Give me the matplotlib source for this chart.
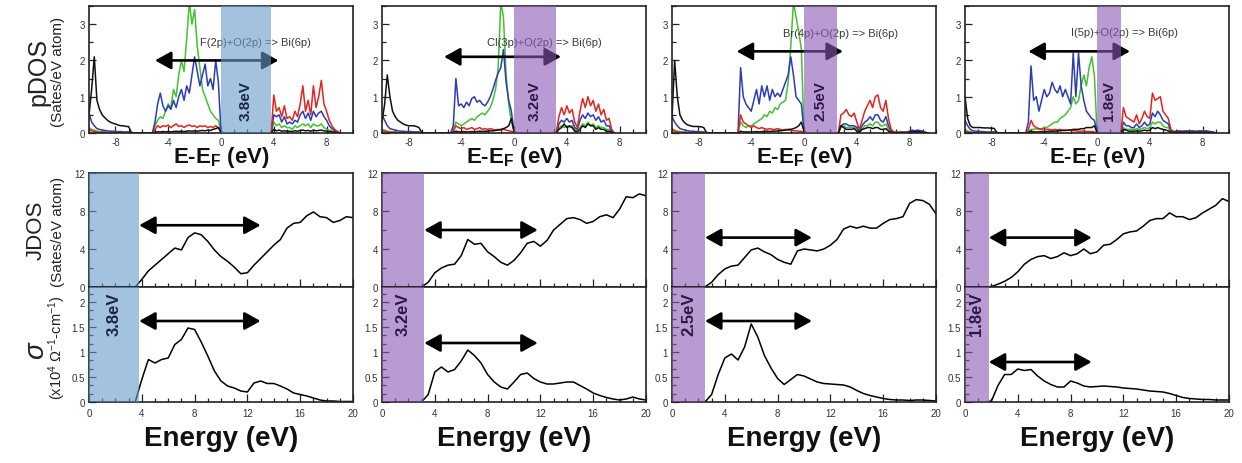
import numpy as np
import matplotlib
matplotlib.use("Agg")
import matplotlib.pyplot as plt
from matplotlib.ticker import MultipleLocator

plt.rcParams['font.family'] = ['Liberation Sans', 'DejaVu Sans']
plt.rcParams['axes.unicode_minus'] = False
plt.rcParams['mathtext.fontset'] = 'custom'
plt.rcParams['mathtext.rm'] = 'Liberation Sans'
plt.rcParams['mathtext.it'] = 'Liberation Sans:italic'
plt.rcParams['mathtext.bf'] = 'Liberation Sans:bold'

# ---------------------------------------------------------------- data
systems = ['F', 'Cl', 'Br', 'I']
gaps = [3.8, 3.2, 2.5, 1.8]
transitions = ['F(2p)+O(2p) => Bi(6p)', 'Cl(3p)+O(2p) => Bi(6p)',
               'Br(4p)+O(2p) => Bi(6p)', 'I(5p)+O(2p) => Bi(6p)']

# pDOS sampled every 0.2 eV; each region given by its first energy
PDOS_STEP = 0.2

# --- BiOF
F_core_start = -10.0
F_core_k = [0.5, 1.2, 2.1, 0.9, 0.65, 0.5, 0.42, 0.35, 0.3, 0.27, 0.25, 0.22, 0.2, 0.2, 0.18, 0.18, 0.02, 0.0]
F_core_b = [0.55, 0.3, 0.2, 0.12, 0.1, 0.08, 0.07, 0.06, 0.05, 0.05, 0.04, 0.04, 0.04, 0.03, 0.03, 0.03, 0.0, 0.0]
F_core_g = [0.15, 0.1, 0.08, 0.05, 0.04, 0.03, 0.03, 0.02, 0.02, 0.02, 0.02, 0.02, 0.01, 0.01, 0.01, 0.01, 0.0, 0.0]
F_core_r = [0.1, 0.06, 0.04, 0.03, 0.02, 0.02, 0.02, 0.01, 0.01, 0.01, 0.01, 0.01, 0.01, 0.01, 0.01, 0.01, 0.0, 0.0]
F_vb_start = -5.2
F_vb_b = [0, 0.3, 0.8, 1.1, 0.75, 0.6, 0.75, 0.65, 0.9, 0.7, 1.0, 1.2, 0.9, 1.3, 1.1, 1.6, 2.1, 1.7, 1.3, 1.6, 1.9, 1.3, 1.5, 1.2, 2.0, 1.4, 0.05, 0]
F_vb_g = [0, 0.2, 0.35, 0.45, 0.4, 0.6, 0.8, 0.7, 1.2, 1.0, 1.6, 2.0, 1.7, 2.6, 3.6, 3.0, 3.4, 2.4, 1.8, 1.2, 1.0, 0.8, 0.6, 0.5, 0.4, 0.35, 0.05, 0]
F_vb_r = [0, 0.1, 0.2, 0.15, 0.2, 0.18, 0.22, 0.15, 0.2, 0.25, 0.18, 0.2, 0.15, 0.2, 0.22, 0.18, 0.2, 0.15, 0.2, 0.18, 0.2, 0.15, 0.18, 0.15, 0.2, 0.15, 0.02, 0]
F_vb_k = [0, 0.02, 0.03, 0.03, 0.04, 0.03, 0.04, 0.03, 0.04, 0.05, 0.04, 0.05, 0.04, 0.05, 0.06, 0.05, 0.06, 0.05, 0.06, 0.07, 0.06, 0.08, 0.07, 0.1, 0.12, 0.15, 0.02, 0]
F_cb_start = 3.8
F_cb_r = [0, 1.05, 0.6, 0.7, 0.45, 0.75, 0.4, 0.45, 0.35, 0.6, 0.45, 0.8, 1.3, 0.6, 0.9, 0.5, 1.3, 0.7, 1.0, 1.45, 0.8, 0.6, 0.35, 0.2, 0.1, 0.05, 0]
F_cb_b = [0, 0.5, 0.45, 0.5, 0.3, 0.45, 0.25, 0.3, 0.25, 0.35, 0.3, 0.5, 0.6, 0.4, 0.55, 0.35, 0.6, 0.45, 0.55, 0.6, 0.45, 0.35, 0.2, 0.12, 0.06, 0.03, 0]
F_cb_g = [0, 0.3, 0.2, 0.25, 0.15, 0.2, 0.15, 0.15, 0.1, 0.2, 0.15, 0.2, 0.25, 0.2, 0.25, 0.15, 0.25, 0.2, 0.2, 0.25, 0.15, 0.1, 0.08, 0.05, 0.03, 0.02, 0]
F_cb_k = [0, 0.1, 0.06, 0.08, 0.05, 0.06, 0.05, 0.05, 0.04, 0.06, 0.05, 0.07, 0.08, 0.06, 0.07, 0.05, 0.08, 0.06, 0.07, 0.08, 0.06, 0.05, 0.04, 0.03, 0.02, 0.01, 0]

# --- BiOCl
Cl_core_start = -10.0
Cl_core_k = [0.3, 0.8, 1.6, 1.0, 0.6, 0.45, 0.35, 0.3, 0.25, 0.22, 0.2, 0.2, 0.2, 0.18, 0.15, 0.02, 0, 0]
Cl_core_b = [0.5, 0.35, 0.2, 0.12, 0.1, 0.08, 0.06, 0.05, 0.05, 0.04, 0.04, 0.04, 0.03, 0.03, 0.03, 0, 0, 0]
Cl_core_g = [0.1, 0.08, 0.05, 0.04, 0.03, 0.03, 0.02, 0.02, 0.02, 0.02, 0.01, 0.01, 0.01, 0.01, 0.01, 0, 0, 0]
Cl_core_r = [0.06, 0.05, 0.03, 0.02, 0.02, 0.02, 0.01, 0.01, 0.01, 0.01, 0.01, 0.01, 0.01, 0.01, 0.01, 0, 0, 0]
Cl_vb_start = -4.8
Cl_vb_b = [0, 0.2, 1.5, 0.75, 0.8, 0.7, 0.85, 0.75, 0.95, 1.0, 0.85, 0.9, 0.8, 0.75, 0.85, 1.0, 1.2, 1.45, 1.65, 1.8, 2.3, 1.4, 0.9, 0.6, 0.05, 0]
Cl_vb_g = [0, 0.1, 0.3, 0.25, 0.2, 0.25, 0.3, 0.35, 0.4, 0.35, 0.45, 0.5, 0.55, 0.5, 0.6, 0.7, 0.9, 1.2, 1.8, 3.6, 3.2, 1.6, 0.8, 0.3, 0.05, 0]
Cl_vb_r = [0, 0.05, 0.2, 0.15, 0.12, 0.15, 0.1, 0.12, 0.15, 0.1, 0.12, 0.15, 0.1, 0.12, 0.1, 0.12, 0.1, 0.08, 0.1, 0.08, 0.1, 0.08, 0.06, 0.05, 0.02, 0]
Cl_vb_k = [0, 0.02, 0.05, 0.03, 0.03, 0.04, 0.03, 0.03, 0.04, 0.03, 0.04, 0.05, 0.04, 0.05, 0.05, 0.06, 0.06, 0.07, 0.08, 0.1, 0.12, 0.15, 0.2, 0.4, 0.05, 0]
Cl_cb_start = 3.2
Cl_cb_r = [0, 0.45, 0.7, 0.5, 0.75, 0.55, 0.65, 0.3, 0.15, 0.6, 0.95, 0.7, 1.0, 0.75, 0.9, 0.6, 0.8, 0.5, 0.65, 0.35, 0.4, 0.1, 0]
Cl_cb_b = [0, 0.25, 0.35, 0.3, 0.4, 0.3, 0.35, 0.15, 0.1, 0.35, 0.5, 0.4, 0.55, 0.45, 0.5, 0.35, 0.45, 0.3, 0.35, 0.2, 0.2, 0.05, 0]
Cl_cb_g = [0, 0.15, 0.2, 0.15, 0.2, 0.15, 0.2, 0.1, 0.05, 0.15, 0.25, 0.2, 0.3, 0.2, 0.25, 0.15, 0.2, 0.15, 0.15, 0.1, 0.1, 0.03, 0]
Cl_cb_k = [0, 0.1, 0.15, 0.25, 0.15, 0.2, 0.15, 0.05, 0.03, 0.1, 0.2, 0.15, 0.25, 0.2, 0.2, 0.1, 0.15, 0.1, 0.1, 0.05, 0.05, 0.02, 0]

# --- BiOBr
Br_core_start = -10.0
Br_core_k = [0.4, 2.0, 1.0, 0.5, 0.35, 0.27, 0.22, 0.2, 0.18, 0.18, 0.18, 0.17, 0.15, 0.02, 0, 0, 0, 0]
Br_core_b = [0.45, 0.3, 0.2, 0.12, 0.1, 0.08, 0.06, 0.05, 0.05, 0.04, 0.04, 0.03, 0.03, 0, 0, 0, 0, 0]
Br_core_g = [0.12, 0.08, 0.05, 0.04, 0.03, 0.02, 0.02, 0.02, 0.02, 0.01, 0.01, 0.01, 0.01, 0, 0, 0, 0, 0]
Br_core_r = [0.08, 0.05, 0.03, 0.02, 0.02, 0.01, 0.01, 0.01, 0.01, 0.01, 0.01, 0.01, 0.01, 0, 0, 0, 0, 0]
Br_vb_start = -5.0
Br_vb_b = [0, 1.8, 1.0, 0.8, 0.7, 0.6, 0.9, 1.2, 0.8, 1.3, 1.0, 1.3, 0.9, 1.2, 1.0, 1.1, 1.0, 1.2, 1.4, 1.6, 2.1, 1.6, 1.0, 0.9, 0.8, 0.05, 0]
Br_vb_g = [0, 0.3, 0.2, 0.15, 0.2, 0.2, 0.25, 0.3, 0.35, 0.4, 0.5, 0.45, 0.6, 0.55, 0.7, 0.65, 0.8, 0.85, 0.9, 1.4, 2.4, 3.6, 3.2, 2.8, 2.3, 0.05, 0]
Br_vb_r = [0, 0.5, 0.3, 0.25, 0.2, 0.15, 0.2, 0.15, 0.12, 0.15, 0.12, 0.1, 0.12, 0.1, 0.1, 0.12, 0.1, 0.08, 0.1, 0.08, 0.08, 0.06, 0.06, 0.05, 0.05, 0.02, 0]
Br_vb_k = [0, 0.05, 0.03, 0.03, 0.03, 0.03, 0.03, 0.04, 0.03, 0.04, 0.04, 0.05, 0.04, 0.05, 0.05, 0.06, 0.06, 0.07, 0.08, 0.1, 0.1, 0.12, 0.15, 0.2, 0.3, 0.05, 0]
Br_cb_start = 2.6
Br_cb_r = [0, 0.5, 0.55, 0.65, 0.5, 0.45, 0.55, 0.3, 0.1, 0.35, 0.6, 0.75, 0.9, 0.7, 1.0, 1.05, 0.7, 0.6, 0.9, 0.4, 0.1, 0.03, 0.02, 0.02, 0.02, 0.02, 0.02, 0.02, 0.03, 0.03, 0.03, 0.02, 0.02, 0.01, 0]
Br_cb_b = [0, 0.2, 0.25, 0.25, 0.2, 0.2, 0.2, 0.15, 0.05, 0.2, 0.3, 0.35, 0.45, 0.35, 0.5, 0.5, 0.35, 0.3, 0.45, 0.2, 0.05, 0.02, 0.02, 0.02, 0.03, 0.02, 0.03, 0.05, 0.08, 0.06, 0.08, 0.07, 0.05, 0.02, 0]
Br_cb_g = [0, 0.15, 0.2, 0.15, 0.15, 0.15, 0.15, 0.1, 0.03, 0.1, 0.2, 0.2, 0.25, 0.2, 0.3, 0.3, 0.2, 0.2, 0.25, 0.1, 0.03, 0.01, 0.01, 0.01, 0.01, 0.01, 0.01, 0.02, 0.03, 0.03, 0.03, 0.02, 0.02, 0.01, 0]
Br_cb_k = [0, 0.2, 0.15, 0.1, 0.1, 0.1, 0.12, 0.05, 0.02, 0.1, 0.12, 0.15, 0.15, 0.12, 0.15, 0.15, 0.1, 0.1, 0.12, 0.05, 0.02, 0.01, 0.01, 0.01, 0.01, 0.01, 0.01, 0.02, 0.04, 0.03, 0.04, 0.03, 0.02, 0.01, 0]

# --- BiOI
I_core_start = -10.0
I_core_k = [1.0, 0.4, 0.2, 0.15, 0.15, 0.15, 0.15, 0.14, 0.14, 0.14, 0.13, 0.13, 0.02, 0, 0, 0, 0, 0]
I_core_b = [0.35, 0.2, 0.1, 0.06, 0.05, 0.05, 0.04, 0.04, 0.03, 0.03, 0.03, 0.03, 0, 0, 0, 0, 0, 0]
I_core_g = [0.1, 0.05, 0.03, 0.02, 0.02, 0.02, 0.01, 0.01, 0.01, 0.01, 0.01, 0.01, 0, 0, 0, 0, 0, 0]
I_core_r = [0.05, 0.03, 0.02, 0.01, 0.01, 0.01, 0.01, 0.01, 0.01, 0.01, 0.01, 0.01, 0, 0, 0, 0, 0, 0]
I_vb_start = -5.4
I_vb_b = [0, 0.3, 1.85, 0.9, 1.0, 0.6, 0.9, 1.2, 1.0, 1.1, 1.4, 1.2, 1.1, 1.3, 1.0, 1.2, 1.0, 0.8, 2.2, 1.0, 2.2, 1.3, 0.9, 0.6, 0.5, 0.4, 0.35, 0.05, 0]
I_vb_g = [0, 0.05, 0.1, 0.1, 0.12, 0.1, 0.12, 0.15, 0.15, 0.2, 0.25, 0.3, 0.3, 0.4, 0.45, 0.5, 0.6, 0.7, 1.0, 0.8, 0.9, 1.3, 1.6, 1.3, 1.8, 2.1, 1.6, 0.05, 0]
I_vb_r = [0, 0.1, 0.35, 0.2, 0.15, 0.12, 0.1, 0.12, 0.1, 0.1, 0.08, 0.1, 0.08, 0.1, 0.08, 0.08, 0.07, 0.08, 0.06, 0.06, 0.05, 0.05, 0.05, 0.04, 0.04, 0.04, 0.03, 0.01, 0]
I_vb_k = [0, 0.02, 0.05, 0.03, 0.03, 0.03, 0.04, 0.04, 0.04, 0.05, 0.05, 0.05, 0.06, 0.06, 0.07, 0.07, 0.08, 0.08, 0.1, 0.1, 0.1, 0.12, 0.12, 0.15, 0.15, 0.15, 0.2, 0.02, 0]
I_cb_start = 1.8
I_cb_r = [0, 0.7, 0.45, 0.4, 0.35, 0.3, 0.5, 0.25, 0.4, 0.6, 0.45, 0.4, 1.1, 0.9, 0.95, 1.0, 0.6, 0.5, 0.4, 0.1, 0.04, 0.03, 0.03, 0.03, 0.03, 0.03, 0.03, 0.03, 0.03, 0.03, 0.03, 0.03, 0.03, 0.02, 0.02, 0.01, 0]
I_cb_b = [0, 0.3, 0.2, 0.2, 0.15, 0.15, 0.25, 0.15, 0.2, 0.3, 0.2, 0.25, 0.55, 0.45, 0.6, 0.5, 0.35, 0.3, 0.25, 0.06, 0.04, 0.05, 0.06, 0.05, 0.05, 0.06, 0.05, 0.06, 0.05, 0.05, 0.06, 0.05, 0.06, 0.05, 0.04, 0.03, 0]
I_cb_g = [0, 0.15, 0.1, 0.1, 0.1, 0.1, 0.12, 0.1, 0.12, 0.15, 0.12, 0.15, 0.3, 0.25, 0.3, 0.3, 0.2, 0.15, 0.15, 0.03, 0.03, 0.04, 0.05, 0.04, 0.06, 0.05, 0.04, 0.06, 0.05, 0.04, 0.05, 0.06, 0.05, 0.04, 0.03, 0.02, 0]
I_cb_k = [0, 0.1, 0.08, 0.05, 0.05, 0.05, 0.06, 0.05, 0.06, 0.08, 0.06, 0.08, 0.15, 0.12, 0.15, 0.12, 0.1, 0.08, 0.06, 0.02, 0.02, 0.02, 0.02, 0.02, 0.02, 0.02, 0.02, 0.02, 0.02, 0.02, 0.02, 0.02, 0.02, 0.02, 0.01, 0.01, 0]

# JDOS and optical conductivity, sampled every 0.5 eV from 0 to 20 eV
energy = np.linspace(0.0, 20.0, 41)
jdos_F = [0, 0, 0, 0, 0, 0, 0, 0, 0.8, 1.7, 2.3, 2.9, 3.5, 4.1, 3.9, 5.2, 5.7, 5.5, 4.8, 3.9, 3.2, 2.7, 2.1, 1.4, 1.5, 2.3, 3.0, 3.7, 4.4, 5.0, 6.2, 6.7, 6.8, 7.5, 7.9, 7.4, 7.3, 6.8, 7.0, 7.4, 7.3]
jdos_Cl = [0, 0, 0, 0, 0, 0, 0, 0.5, 1.5, 2.0, 2.3, 2.4, 3.3, 5.0, 4.5, 4.6, 3.7, 3.2, 2.6, 2.3, 2.8, 3.6, 4.6, 4.8, 4.3, 4.9, 6.0, 6.6, 7.2, 7.3, 7.1, 6.7, 6.9, 7.4, 7.6, 7.3, 8.2, 9.5, 9.4, 9.8, 9.6]
jdos_Br = [0, 0, 0, 0, 0, 0, 0.5, 1.3, 1.9, 2.2, 2.3, 3.1, 3.9, 4.1, 3.7, 3.4, 2.9, 2.6, 2.4, 3.8, 4.0, 3.9, 3.8, 4.0, 4.4, 5.0, 6.1, 6.4, 6.2, 6.4, 6.2, 6.2, 6.7, 7.1, 7.2, 7.4, 8.8, 9.2, 9.1, 8.7, 7.7]
jdos_I = [0, 0, 0, 0, 0.05, 0.3, 0.6, 1.0, 1.6, 2.4, 2.9, 3.2, 3.3, 3.0, 3.2, 3.6, 3.3, 3.5, 4.0, 3.5, 3.7, 4.4, 4.5, 5.0, 5.6, 5.8, 5.9, 6.4, 7.0, 7.2, 7.2, 7.8, 7.4, 7.4, 7.1, 7.3, 7.8, 8.2, 8.6, 9.3, 9.0]
sigma_F = [0, 0, 0, 0, 0, 0, 0, 0, 0.45, 0.85, 0.78, 0.85, 0.88, 1.15, 1.25, 1.48, 1.45, 1.2, 0.92, 0.62, 0.42, 0.32, 0.28, 0.22, 0.2, 0.38, 0.42, 0.37, 0.37, 0.32, 0.26, 0.18, 0.15, 0.12, 0.08, 0.04, 0.02, 0.02, 0.01, 0.01, 0.01]
sigma_Cl = [0, 0, 0, 0, 0, 0, 0, 0.15, 0.6, 0.7, 0.6, 0.65, 0.82, 1.04, 0.93, 0.78, 0.55, 0.4, 0.3, 0.26, 0.4, 0.55, 0.58, 0.47, 0.4, 0.36, 0.36, 0.38, 0.4, 0.4, 0.33, 0.26, 0.18, 0.13, 0.09, 0.06, 0.04, 0.06, 0.1, 0.06, 0.04]
sigma_Br = [0, 0, 0, 0, 0, 0, 0.15, 0.55, 0.88, 0.96, 0.84, 1.1, 1.56, 1.3, 0.93, 0.68, 0.47, 0.35, 0.45, 0.55, 0.52, 0.46, 0.4, 0.37, 0.36, 0.35, 0.34, 0.3, 0.23, 0.17, 0.13, 0.1, 0.07, 0.05, 0.04, 0.04, 0.03, 0.04, 0.04, 0.03, 0.02]
sigma_I = [0, 0, 0, 0, 0.02, 0.33, 0.55, 0.55, 0.66, 0.63, 0.65, 0.52, 0.42, 0.35, 0.3, 0.3, 0.42, 0.38, 0.32, 0.3, 0.31, 0.32, 0.31, 0.3, 0.28, 0.27, 0.26, 0.24, 0.22, 0.21, 0.2, 0.17, 0.13, 0.09, 0.07, 0.06, 0.05, 0.05, 0.04, 0.04, 0.04]

# double-arrow extents (eV) and heights
pdos_arrow_left = [-5.0, -5.3, -5.1, -5.2]
pdos_arrow_right = [4.35, 3.56, 2.95, 2.5]
pdos_arrow_y = [2.0, 2.1, 2.25, 2.25]
opt_arrow_right = [13.0, 11.8, 10.6, 9.6]
jdos_arrow_y = [6.5, 6.0, 5.2, 5.2]
sigma_arrow_y = [1.62, 1.18, 1.62, 0.8]
label_x = [2.6, 2.3, 2.8, 2.1]
label_y = [2.5, 2.5, 2.75, 2.78]

# ---------------------------------------------------------------- helpers
G = globals()


def pdos_curve(sys_name, key):
    xs, ys = [], []
    for region in ('core', 'vb', 'cb'):
        vals = np.asarray(G[f'{sys_name}_{region}_{key}'], dtype=float)
        start = G[f'{sys_name}_{region}_start']
        xs.append(start + PDOS_STEP * np.arange(len(vals)))
        ys.append(vals)
    return np.concatenate(xs), np.concatenate(ys)


W, H = 1242.0, 464.0


def rect(left, top, width, height):
    return [left / W, 1 - (top + height) / H, width / W, height / H]


band_colors = ['#669acb', '#8a58b6', '#8a58b6', '#8a58b6']
gap_text_colors = ['#1b2448', '#2c1846', '#2c1846', '#2c1846']
curve_colors = {'g': '#45c030', 'b': '#2b3db5', 'r': '#e4241e', 'k': '#111111'}
lefts = [89, 382, 672, 965]
PW = 264

fig = plt.figure(figsize=(W / 100, H / 100), dpi=100)


def style(ax):
    for s in ax.spines.values():
        s.set_linewidth(1.2)
        s.set_color('#222222')
    ax.tick_params(which='both', direction='in', top=False, right=False,
                   labelsize=7, labelcolor='#333333', color='#222222', width=0.9)
    ax.tick_params(which='major', length=5, pad=3)
    ax.tick_params(which='minor', length=3)


def double_arrow(ax, x1, x2, y):
    ax.annotate('', xy=(x2, y), xytext=(x1, y), zorder=2.5,
                arrowprops=dict(arrowstyle='<|-|>,head_length=0.65,head_width=0.36',
                                mutation_scale=15, lw=1.9, color='black',
                                shrinkA=0, shrinkB=0))


for i, name in enumerate(systems):
    left = lefts[i]
    gap = gaps[i]

    # ---- projected DOS
    ax = fig.add_axes(rect(left, 7, PW, 127))
    style(ax)
    for key in ('g', 'b', 'r', 'k'):
        e, d = pdos_curve(name, key)
        ax.plot(e, d, color=curve_colors[key], lw=1.1, zorder=2)
    ax.set_xlim(-10, 10)
    ax.set_ylim(0, 3.5)
    ax.set_xticks([-8, -4, 0, 4, 8])
    ax.xaxis.set_minor_locator(MultipleLocator(1))
    ax.set_yticks([0, 1, 2, 3])
    ax.yaxis.set_minor_locator(MultipleLocator(0.5))
    ax.axvspan(0, gap, color=band_colors[i], alpha=0.6, lw=0, zorder=3)
    double_arrow(ax, pdos_arrow_left[i], pdos_arrow_right[i], pdos_arrow_y[i])
    ax.text(label_x[i], label_y[i], transitions[i], ha='center', va='center',
            fontsize=8, color='#3a3a3a', zorder=2.6)
    ax.text(gap / 2, 0.9, f'{gap}eV', rotation=90, ha='center', va='center',
            fontsize=11, fontweight='bold', color=gap_text_colors[i], zorder=4)
    fig.text((left + PW / 2) / W, 1 - 163 / H, r'E-E$_\mathbf{F}$ (eV)',
             ha='center', va='baseline', fontsize=16, fontweight='bold', color='#111111')

    # ---- joint density of states
    axj = fig.add_axes(rect(left, 174, PW, 114))
    style(axj)
    axj.plot(energy, G[f'jdos_{name}'], color='black', lw=1.1)
    axj.set_xlim(0, 20)
    axj.set_ylim(0, 12)
    axj.set_yticks([0, 4, 8, 12])
    axj.yaxis.set_minor_locator(MultipleLocator(2))
    axj.set_xticks([0, 4, 8, 12, 16, 20])
    axj.xaxis.set_minor_locator(MultipleLocator(1))
    axj.tick_params(labelbottom=False)
    axj.tick_params(which='major', axis='x', length=6)
    axj.axvspan(0, gap, color=band_colors[i], alpha=0.6, lw=0, zorder=3)
    double_arrow(axj, gap, opt_arrow_right[i], jdos_arrow_y[i])

    # ---- optical conductivity
    axs = fig.add_axes(rect(left, 288, PW, 115))
    style(axs)
    axs.plot(energy, G[f'sigma_{name}'], color='black', lw=1.1)
    axs.set_xlim(0, 20)
    axs.set_ylim(0, 2.3)
    axs.set_yticks([0, 0.5, 1, 1.5, 2])
    axs.set_yticklabels(['0', '0.5', '1', '1.5', '2'])
    axs.yaxis.set_minor_locator(MultipleLocator(0.5 / 3))
    axs.set_xticks([0, 4, 8, 12, 16, 20])
    axs.xaxis.set_minor_locator(MultipleLocator(1))
    axs.tick_params(which='major', axis='x', length=6, pad=4)
    axs.axvspan(0, gap, color=band_colors[i], alpha=0.6, lw=0, zorder=3)
    double_arrow(axs, gap, opt_arrow_right[i], sigma_arrow_y[i])
    axs.text(gap / 2, 1.78, f'{gap}eV', rotation=90, ha='center', va='center',
             fontsize=12, fontweight='bold', color=gap_text_colors[i], zorder=4)
    fig.text((left + PW / 2) / W, 1 - 446 / H, 'Energy (eV)',
             ha='center', va='baseline', fontsize=20, fontweight='bold', color='#111111')

# ---- row labels
fig.text(38 / W, 1 - 72 / H, 'pDOS', rotation=90, ha='center', va='center',
         fontsize=18, color='#222222')
fig.text(58 / W, 1 - 72 / H, '(Sates/eV atom)', rotation=90, ha='center', va='center',
         fontsize=11, color='#222222')
fig.text(36 / W, 1 - 230 / H, 'JDOS', rotation=90, ha='center', va='center',
         fontsize=16, color='#222222')
fig.text(58 / W, 1 - 232 / H, '(Sates/eV atom)', rotation=90, ha='center', va='center',
         fontsize=11, color='#222222')
fig.text(37 / W, 1 - 350 / H, r'$\sigma$', rotation=90, ha='center', va='center',
         fontsize=20, color='#222222')
fig.text(57 / W, 1 - 348 / H, r'(x10$^4$ $\Omega^{-1}$-cm$^{-1}$)', rotation=90,
         ha='center', va='center', fontsize=10.5, color='#222222')

fig.savefig('out.png', dpi=100)
